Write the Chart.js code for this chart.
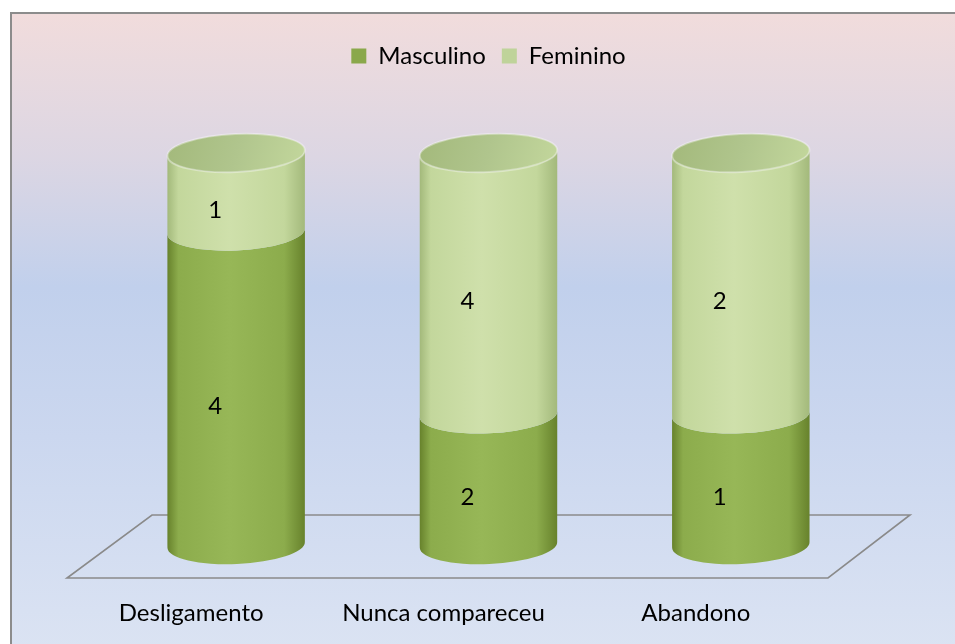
<!DOCTYPE html>
<html>
<head>
<meta charset="utf-8">
<script src="https://cdn.jsdelivr.net/npm/chart.js@4/dist/chart.umd.min.js"></script>
<style>
  html, body { margin: 0; padding: 0; background: #fff; overflow: hidden; }
  #frame {
    position: absolute; left: 10px; top: 12px; width: 960px; height: 650px;
    border: 2px solid #8c8c8c;
    background: linear-gradient(to bottom, #f1dcdc 0%, #dcd6e3 22%, #c1d0ec 42%, #cbd7ef 65%, #dce4f3 100%);
  }
  #wrap { position: absolute; left: 0; top: 0; width: 955px; height: 644px; }
</style>
</head>
<body>
<div id="frame"></div>
<div id="wrap"><canvas id="motivosChart" width="955" height="644"></canvas></div>
<script>
// Motivo de saída por sexo (contagens)
const categorias = ["Desligamento", "Nunca compareceu", "Abandono"];
const masculino = [4, 2, 1];
const feminino = [1, 4, 2];

// percentagem por coluna (colunas empilhadas a 100%)
const totais = categorias.map((c, i) => masculino[i] + feminino[i]);
const pctMasc = masculino.map((v, i) => v / totais[i] * 100);
const pctFem = feminino.map((v, i) => v / totais[i] * 100);

const FONTE = "Lato, 'Open Sans', sans-serif";

// tons de cada série: borda escura, centro claro, tampa
const tons = {
  masc: { edge: "#67822c", mid: "#97b757", light: "#8cac4c", cap: "#83a245" },
  fem:  { edge: "#a3b97b", mid: "#cfe0ab", light: "#c3d79c", cap: "#b0c58d" }
};

function gradienteHorizontal(ctx, left, right, t) {
  const g = ctx.createLinearGradient(left, 0, right, 0);
  g.addColorStop(0, t.edge);
  g.addColorStop(0.08, t.light);
  g.addColorStop(0.45, t.mid);
  g.addColorStop(0.85, t.light);
  g.addColorStop(1, t.edge);
  return g;
}

const cilindros = {
  id: "cilindros",
  beforeDatasetsDraw(chart) {
    const ctx = chart.ctx;
    const area = chart.chartArea;
    const ry = 19;
    const rot = -0.045;

    // chão em perspetiva
    ctx.save();
    ctx.strokeStyle = "#8a8a8a";
    ctx.lineWidth = 1.6;
    ctx.beginPath();
    ctx.moveTo(area.left - 43, area.bottom + 33);
    ctx.lineTo(area.right - 39, area.bottom + 33);
    ctx.lineTo(area.right + 43, area.bottom - 30);
    ctx.lineTo(area.left + 42, area.bottom - 30);
    ctx.closePath();
    ctx.stroke();
    ctx.restore();

    const series = [
      { meta: chart.getDatasetMeta(0), t: tons.masc, raw: masculino },
      { meta: chart.getDatasetMeta(1), t: tons.fem, raw: feminino }
    ];

    categorias.forEach((c, i) => {
      series.forEach((s, k) => {
        const bar = s.meta.data[i];
        const props = bar.getProps(["x", "y", "base", "width"], true);
        const rx = props.width / 2;
        const left = props.x - rx, right = props.x + rx;
        const top = props.y, base = props.base;

        ctx.save();
        ctx.fillStyle = gradienteHorizontal(ctx, left, right, s.t);
        ctx.beginPath();
        ctx.moveTo(left, top);
        ctx.lineTo(left, base);
        ctx.ellipse(props.x, base, rx, ry, rot, Math.PI, 0, true);
        ctx.lineTo(right, top);
        ctx.ellipse(props.x, top, rx, ry, rot, 0, Math.PI, false);
        ctx.closePath();
        ctx.fill();

        // tampa no topo da coluna
        if (k === series.length - 1) {
          const g = ctx.createLinearGradient(left, top - ry, right, top + ry);
          g.addColorStop(0, s.t.edge);
          g.addColorStop(0.5, s.t.cap);
          g.addColorStop(1, s.t.light);
          ctx.fillStyle = g;
          ctx.beginPath();
          ctx.ellipse(props.x, top, rx, ry, rot, 0, Math.PI * 2);
          ctx.fill();
          ctx.strokeStyle = "rgba(255,255,255,0.35)";
          ctx.lineWidth = 2;
          ctx.stroke();
        }
        ctx.restore();
      });
    });

    // valores (contagens) sobre cada segmento
    ctx.save();
    ctx.fillStyle = "#000";
    ctx.font = "24px " + FONTE;
    ctx.textAlign = "center";
    ctx.textBaseline = "middle";
    categorias.forEach((c, i) => {
      series.forEach(s => {
        const p = s.meta.data[i].getProps(["x", "y", "base"], true);
        ctx.fillText(String(s.raw[i]), p.x - 21, (p.y + p.base) / 2 + 18);
      });
    });
    ctx.restore();
    return false;
  }
};

// espaço extra sob a legenda
const espacoLegenda = {
  id: "espacoLegenda",
  beforeInit(chart) {
    const fit = chart.legend.fit;
    chart.legend.fit = function () {
      fit.bind(chart.legend)();
      this.height += 75;
    };
  }
};

const ctx = document.getElementById("motivosChart").getContext("2d");

new Chart(ctx, {
  type: "bar",
  data: {
    labels: categorias,
    datasets: [
      {
        label: "Masculino",
        data: pctMasc,
        backgroundColor: "#8aa84b",
        borderWidth: 0,
        barPercentage: 0.545,
        categoryPercentage: 1
      },
      {
        label: "Feminino",
        data: pctFem,
        backgroundColor: "#bfd39a",
        borderWidth: 0,
        barPercentage: 0.545,
        categoryPercentage: 1
      }
    ]
  },
  options: {
    responsive: false,
    animation: false,
    events: [],
    layout: {
      padding: { left: 110, right: 88, top: 28, bottom: 0 }
    },
    plugins: {
      legend: {
        display: true,
        position: "top",
        labels: {
          font: { family: FONTE, size: 24 },
          color: "#000",
          boxWidth: 15,
          boxHeight: 15,
          padding: 16
        }
      },
      tooltip: { enabled: false }
    },
    scales: {
      x: {
        stacked: true,
        grid: { display: false, drawTicks: false },
        border: { display: false },
        ticks: {
          font: { family: FONTE, size: 24 },
          color: "#000",
          padding: 54,
          labelOffset: -45,
          maxRotation: 0
        },
        afterFit(scale) {
          scale.height = 99;
        }
      },
      y: {
        stacked: true,
        display: false,
        min: 0,
        max: 100
      }
    }
  },
  plugins: [espacoLegenda, cilindros]
});
</script>
</body>
</html>
